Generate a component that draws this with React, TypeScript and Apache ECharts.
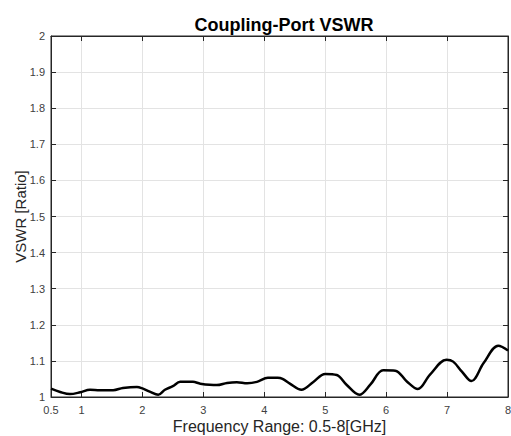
import React, { useEffect, useRef } from "react";
import * as echarts from "echarts";

const freq = [0.5, 0.65, 0.81, 0.98, 1.14, 1.3, 1.52, 1.68, 1.91, 2.01, 2.12, 2.26, 2.37, 2.5, 2.62, 2.83, 2.95, 3.22, 3.39, 3.55, 3.72, 3.88, 4.06, 4.22, 4.3, 4.42, 4.61, 4.8, 5.0, 5.19, 5.35, 5.56, 5.74, 5.95, 6.15, 6.34, 6.52, 6.72, 6.99, 7.1, 7.24, 7.4, 7.6, 7.84, 8.0];
const vswr = [1.023, 1.014, 1.008, 1.013, 1.02, 1.019, 1.019, 1.025, 1.028, 1.023, 1.015, 1.006, 1.02, 1.03, 1.042, 1.042, 1.037, 1.033, 1.039, 1.041, 1.038, 1.042, 1.053, 1.053, 1.05, 1.037, 1.02, 1.041, 1.064, 1.061, 1.034, 1.006, 1.034, 1.074, 1.073, 1.043, 1.022, 1.062, 1.103, 1.098, 1.071, 1.044, 1.094, 1.142, 1.129];
const xTicks = [0.5, 1, 2, 3, 4, 5, 6, 7, 8];

export default function App() {
  const ref = useRef<HTMLDivElement>(null);
  useEffect(() => {
    const chart = echarts.init(ref.current!, null, { renderer: "svg" });
    const font = "Liberation Sans, Arial, sans-serif";
    const axisLine = { show: true, lineStyle: { color: "#262626", width: 1 } };
    chart.setOption({
      animation: false,
      backgroundColor: "#ffffff",
      title: {
        text: "Coupling-Port VSWR",
        left: 279,
        textAlign: "center",
        top: 11,
        textStyle: { fontFamily: font, fontSize: 18, fontWeight: "bold", color: "#000" },
      },
      grid: { left: 51, right: 3, top: 36, bottom: 39, show: true, borderColor: "#262626", borderWidth: 1, outerBoundsMode: "none", containLabel: false },
      xAxis: [
        {
          type: "value",
          min: 0.5,
          max: 8,
          name: "Frequency Range: 0.5-8[GHz]",
          nameLocation: "middle",
          nameGap: 21,
          nameMoveOverlap: false,
          nameTextStyle: { fontFamily: font, fontSize: 16, color: "#262626" },
          axisLine,
          axisTick: { show: true, inside: true, length: 5, customValues: xTicks, lineStyle: { color: "#262626" } },
          axisLabel: { customValues: xTicks, fontFamily: font, fontSize: 11, color: "#404040", margin: 7, showMinLabel: true, showMaxLabel: true },
          splitLine: { show: true, lineStyle: { color: "#e3e3e3", width: 1 } },
        },
        {
          type: "value",
          position: "top",
          min: 0.5,
          max: 8,
          axisLine,
          axisTick: { show: true, inside: true, length: 5, customValues: xTicks, lineStyle: { color: "#262626" } },
          axisLabel: { show: false },
          splitLine: { show: false },
        },
      ],
      yAxis: [
        {
          type: "value",
          min: 1,
          max: 2,
          interval: 0.1,
          name: "VSWR [Ratio]",
          nameLocation: "middle",
          nameGap: 23,
          nameMoveOverlap: false,
          nameTextStyle: { fontFamily: font, fontSize: 15, color: "#262626" },
          axisLine,
          axisTick: { show: true, inside: true, length: 5, lineStyle: { color: "#262626" } },
          axisLabel: { fontFamily: font, fontSize: 11, color: "#404040", margin: 6, formatter: (v: number) => String(Math.round(v * 10) / 10) },
          splitLine: { show: true, lineStyle: { color: "#e3e3e3", width: 1 } },
        },
        {
          type: "value",
          position: "right",
          min: 1,
          max: 2,
          interval: 0.1,
          axisLine,
          axisTick: { show: true, inside: true, length: 5, lineStyle: { color: "#262626" } },
          axisLabel: { show: false },
          splitLine: { show: false },
        },
      ],
      series: [
        {
          type: "line",
          data: freq.map((f, i) => [f, vswr[i]]),
          showSymbol: false,
          smooth: 0.35,
          lineStyle: { color: "#000", width: 2.5 },
          xAxisIndex: 0,
          yAxisIndex: 0,
        },
      ],
    });
    return () => chart.dispose();
  }, []);
  return <div ref={ref} style={{ width: 511, height: 436, position: "absolute", left: 0, top: 0 }} />;
}
